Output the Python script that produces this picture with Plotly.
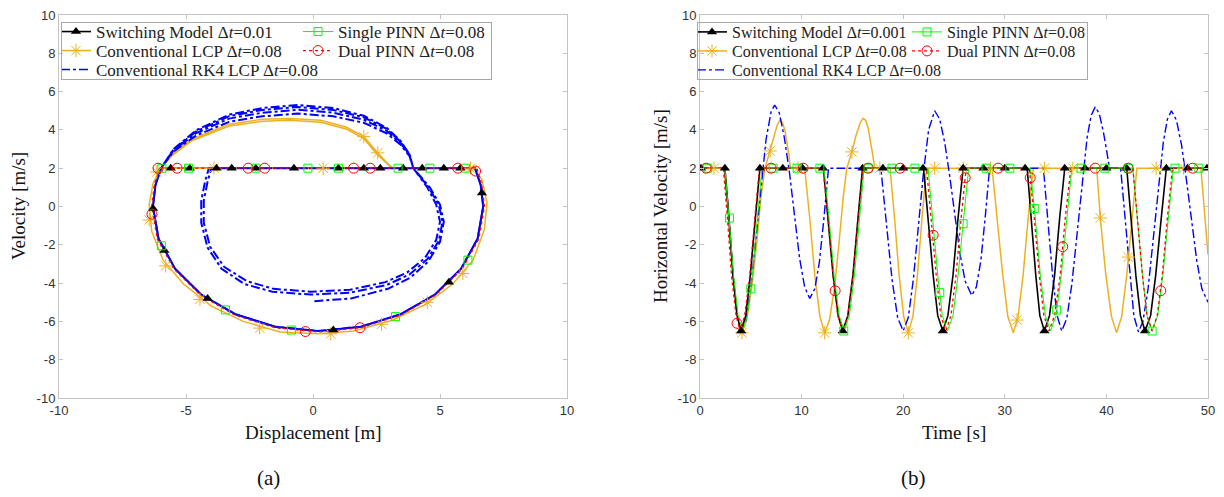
import plotly.graph_objects as go

W, H = 1224, 497

# ---------------- tick labels ----------------
y_tick_vals = [-10, -8, -6, -4, -2, 0, 2, 4, 6, 8, 10]
y_tick_text = ['-10', '-8', '-6', '-4', '-2', '0', '2', '4', '6', '8', '10']
xa_tick_vals = [-10, -5, 0, 5, 10]
xa_tick_text = ['-10', '-5', '0', '5', '10']
xb_tick_vals = [0, 10, 20, 30, 40, 50]
xb_tick_text = ['0', '10', '20', '30', '40', '50']

names_a = ['Switching Model Δ<i>t</i>=0.01', 'Conventional LCP Δ<i>t</i>=0.08',
           'Conventional RK4 LCP Δ<i>t</i>=0.08', 'Single PINN Δ<i>t</i>=0.08',
           'Dual PINN Δ<i>t</i>=0.08']
names_b = ['Switching Model Δ<i>t</i>=0.001', 'Conventional LCP Δ<i>t</i>=0.08',
           'Conventional RK4 LCP Δ<i>t</i>=0.08', 'Single PINN Δ<i>t</i>=0.08',
           'Dual PINN Δ<i>t</i>=0.08']

# ================= panel (a): phase portrait =================
sw_x = [-5.98, 6.38, 6.6, 6.7, 6.48, 5.83, 4.8, 3.45, 1.88, 0.2, -1.48, -3.05, -4.4, -5.43, -6.08, -6.3, -6.2, -5.98]
sw_y = [2.0, 2.0, 1.13, 0.0, -1.68, -3.25, -4.6, -5.63, -6.28, -6.5, -6.28, -5.63, -4.6, -3.25, -1.68, 0.0, 1.13, 2.0]
sw_mx = [-5.6, -4.85, -3.8, -3.2, -2.25, -0.75, 1.0, 2.0, 2.65, 3.55, 4.3, 5.15, 5.8, 6.65, 5.35, 0.8, -4.15, -5.85, -6.3]
sw_my = [2, 2, 2, 2, 2, 2, 2, 2, 2, 2, 2, 2, 2, 0.7, -3.95, -6.45, -4.8, -2.3, -0.1]

sp_x = [-5.95, 6.35, 6.6, 6.7, 6.48, 5.83, 4.8, 3.45, 1.88, 0.2, -1.48, -3.05, -4.4, -5.43, -6.08, -6.3, -6.2, -5.95]
sp_y = [2.0, 2.0, 1.13, 0.0, -1.68, -3.25, -4.6, -5.63, -6.28, -6.5, -6.28, -5.63, -4.6, -3.25, -1.68, 0.0, 1.13, 2.0]
sp_mx = [-5.95, -4.9, -2.25, -0.2, 1.0, 3.35, 4.6, 6.0, -5.97, -3.45, -0.85, 3.25, 6.1]
sp_my = [2, 2, 2, 2, 2, 2, 2, 2, -2.05, -5.4, -6.45, -5.75, -2.8]

dp_x = [-6.05, 6.45, 6.65, 6.75, 6.53, 5.87, 4.83, 3.47, 1.88, 0.2, -1.5, -3.08, -4.43, -5.47, -6.13, -6.35, -6.25, -6.05]
dp_y = [2.0, 2.0, 1.13, 0.0, -1.7, -3.27, -4.63, -5.67, -6.33, -6.55, -6.33, -5.67, -4.63, -3.27, -1.7, 0.0, 1.13, 2.0]
dp_mx = [-6.1, -5.35, -2.55, -1.9, 1.6, 2.25, 5.7, 6.4, -6.34, -0.3, 1.85]
dp_my = [2, 2, 2, 2, 2, 2, 2, 1.85, -0.4, -6.53, -6.33]

lcp_start_x = [1.5]
lcp_start_y = [2.0]
lcp_loop_x = [6.35, 6.65, 6.85, 6.75, 6.3, 5.5, 4.45, 3.1, 1.6, 0.2, -1.3, -2.75, -4.0, -5.1, -5.9, -6.35, -6.45, -6.3, -6.0]
lcp_loop_y = [2.0, 1.4, 0.2, -1.2, -2.8, -4.05, -5.1, -5.95, -6.5, -6.65, -6.55, -6.0, -5.2, -4.05, -2.8, -1.3, 0.1, 1.2, 2.0]
lcp_hump1_x = [-6.0, -5.6, -4.8, -3.3, -2.0, -0.9, 0.3, 1.3, 2.0, 2.55, 2.9, 3.15]
lcp_hump1_y = [2.0, 2.7, 3.5, 4.3, 4.55, 4.6, 4.5, 4.15, 3.65, 2.8, 2.3, 2.0]
lcp_hump2_x = [-6.0, -5.55, -4.75, -3.3, -2.0, -0.9, 0.3, 1.3, 2.0, 2.5, 2.85, 3.1]
lcp_hump2_y = [2.0, 2.65, 3.45, 4.2, 4.45, 4.5, 4.4, 4.05, 3.55, 2.75, 2.3, 2.0]
lcp_mx = [-6.15, -6.45, -5.8, -4.45, -2.1, 0.7, 2.7, 4.5, 5.9, -3.9, 0.4, 2.0, 2.55, 6.2]
lcp_my = [1.8, -0.7, -3.1, -4.85, -6.35, -6.65, -6.15, -5.0, -3.5, 2, 2, 3.65, 2.8, 2]

rk_start_x = [1.4]
rk_start_y = [2.0]
rk_outer_x = [6.38, 6.6, 6.7, 6.48, 5.83, 4.8, 3.45, 1.88, 0.2, -1.48, -3.05, -4.4, -5.43, -6.08, -6.3, -6.2, -5.98]
rk_outer_y = [2.0, 1.13, 0.0, -1.68, -3.25, -4.6, -5.63, -6.28, -6.5, -6.28, -5.63, -4.6, -3.25, -1.68, 0.0, 1.13, 2.0]
rk_hump_x = [-5.98, -5.5, -4.6, -3.3, -2.0, -0.6, 0.8, 2.0, 2.9, 3.45, 3.8, 3.95]
rk_hump1_y = [2.0, 2.99, 3.98, 4.8, 5.14, 5.3, 5.14, 4.74, 4.11, 3.42, 2.73, 2.0]
rk_hump2_y = [2.0, 2.86, 3.71, 4.42, 4.71, 4.85, 4.71, 4.37, 3.82, 3.23, 2.63, 2.0]
rk_hump3_y = [2.0, 2.96, 3.92, 4.72, 5.04, 5.2, 5.04, 4.66, 4.05, 3.38, 2.7, 2.0]
rk_hump4_y = [2.0, 2.92, 3.83, 4.59, 4.9, 5.05, 4.9, 4.53, 3.95, 3.31, 2.67, 2.0]
rk_inner1_x = [3.95, 4.55, 4.95, 5.1, 4.95, 4.5, 3.8, 2.9, 1.45, -0.1, -1.6, -2.7, -3.6, -4.15, -4.4, -4.4, -4.25, -4.1]
rk_inner1_y = [2.0, 1.0, 0.1, -0.8, -1.8, -2.75, -3.55, -4.1, -4.5, -4.6, -4.45, -4.05, -3.25, -2.15, -0.85, 0.3, 1.3, 2.0]
rk_inner2_x = [3.95, 4.5, 4.85, 5.0, 4.85, 4.4, 3.7, 2.85, 1.45, -0.1, -1.55, -2.6, -3.5, -4.05, -4.3, -4.3, -4.15, -4.0]
rk_inner2_y = [2.0, 1.0, 0.1, -0.8, -1.75, -2.7, -3.45, -3.95, -4.35, -4.45, -4.3, -3.9, -3.15, -2.1, -0.85, 0.3, 1.3, 2.0]
rk_inner3_x = [3.95, 4.6, 5.0, 5.15, 5.0, 4.55, 3.85, 2.95, 1.5, 0.0]
rk_inner3_y = [2.0, 1.0, 0.1, -0.8, -1.85, -2.85, -3.7, -4.3, -4.8, -4.95]

# ================= panel (b): time histories =================
sw_t = [0.0, 2.45, 2.85, 3.25, 3.65, 4.05, 4.5, 4.95, 5.45, 5.9,
        12.15, 12.6, 13.1, 13.6, 14.05, 14.55, 15.05, 15.55, 16.0,
        22.0, 22.45, 22.95, 23.4, 23.9, 24.4, 24.9, 25.4, 25.9,
        32.2, 32.6, 33.05, 33.45, 33.9, 34.4, 34.9, 35.4, 35.9,
        42.0, 42.45, 42.9, 43.35, 43.8, 44.35, 44.85, 45.4, 45.9,
        50.0]
sw_v = [2, 2, -0.6, -3.6, -5.7, -6.5, -5.7, -3.6, -0.6, 2,
        2, -0.6, -3.6, -5.7, -6.5, -5.7, -3.6, -0.6, 2,
        2, -0.6, -3.6, -5.7, -6.5, -5.7, -3.6, -0.6, 2,
        2, -0.6, -3.6, -5.7, -6.5, -5.7, -3.6, -0.6, 2,
        2, -0.6, -3.6, -5.7, -6.5, -5.7, -3.6, -0.6, 2,
        2]
sw_mt = [0.1, 2.45, 4.05, 5.9, 8.15, 10.1, 12.1, 14.05, 16.0, 18.0, 20.0, 21.95, 23.9,
         25.9, 27.9, 30.0, 32.0, 33.9, 35.9, 37.9, 40.0, 42.0, 43.8, 45.9, 48.0, 49.9]
sw_mv = [2, 2, -6.5, 2, 2, 2, 2, -6.5, 2, 2, 2, 2, -6.5,
         2, 2, 2, 2, -6.5, 2, 2, 2, 2, -6.5, 2, 2, 2]

sp_t = [0.0, 2.45, 2.85, 3.3, 3.75, 4.2, 4.65, 5.15, 5.65, 6.1,
        12.2, 12.7, 13.2, 13.7, 14.2, 14.7, 15.2, 15.7, 16.15,
        22.45, 22.9, 23.4, 23.85, 24.35, 24.9, 25.4, 25.95, 26.45,
        32.5, 33.0, 33.5, 34.0, 34.5, 35.05, 35.55, 36.1, 36.6,
        42.6, 43.05, 43.55, 44.0, 44.5, 45.05, 45.55, 46.1, 46.6,
        50.0]
sp_v = [2, 2, -0.6, -3.6, -5.7, -6.5, -5.7, -3.6, -0.6, 2,
        2, -0.6, -3.6, -5.7, -6.5, -5.7, -3.6, -0.6, 2,
        2, -0.6, -3.6, -5.7, -6.5, -5.7, -3.6, -0.6, 2,
        2, -0.6, -3.6, -5.7, -6.5, -5.7, -3.6, -0.6, 2,
        2, -0.6, -3.6, -5.7, -6.5, -5.7, -3.6, -0.6, 2,
        2]
sp_mt = [0.76, 2.9, 5.0, 7.2, 9.55, 11.8, 14.15, 16.55, 18.9, 21.15, 23.6, 25.9,
         28.15, 30.5, 32.9, 35.1, 37.5, 39.85, 42.15, 44.5, 46.75, 49.1]
sp_mv = [2, -0.6, -4.3, 2, 2, 2, -6.5, 2, 2, 2, -4.5, -0.9,
         2, 2, -0.1, -5.4, 2, 2, 2, -6.5, 2, 2]

dp_t = [0.0, 2.3, 2.7, 3.1, 3.55, 3.95, 4.4, 4.9, 5.4, 5.85,
        12.1, 12.6, 13.1, 13.55, 14.05, 14.55, 15.05, 15.55, 16.05,
        22.3, 22.75, 23.25, 23.7, 24.2, 24.7, 25.2, 25.7, 26.2,
        32.4, 32.9, 33.4, 33.85, 34.35, 34.9, 35.45, 35.95, 36.5,
        42.6, 43.05, 43.55, 44.0, 44.5, 45.0, 45.5, 46.0, 46.5,
        50.0]
dp_v = [2, 2, -0.6, -3.6, -5.7, -6.5, -5.7, -3.6, -0.6, 2,
        2, -0.6, -3.6, -5.7, -6.5, -5.7, -3.6, -0.6, 2,
        2, -0.6, -3.6, -5.7, -6.5, -5.7, -3.6, -0.6, 2,
        2, -0.6, -3.6, -5.7, -6.5, -5.7, -3.6, -0.6, 2,
        2, -0.6, -3.6, -5.7, -6.5, -5.7, -3.6, -0.6, 2,
        2]
dp_mt = [0.6, 3.65, 7.0, 10.15, 13.3, 16.55, 19.7, 22.95, 26.1, 29.35, 32.5, 35.7,
         38.9, 42.15, 45.35, 48.5]
dp_mv = [2, -6.1, 2, 2, -4.4, 2, 2, -1.5, 1.5, 2, 1.5, -2.1,
         2, 2, -4.4, 2]

lcp_t = [0.0, 2.36, 2.8, 3.25, 3.7, 4.13,
         4.6, 5.1, 5.6, 6.0, 6.4, 6.9, 7.3, 7.6, 7.85, 8.1, 8.35, 8.55, 8.75, 8.9,
         10.3, 10.8, 11.3, 11.8, 12.27,
         12.75, 13.25, 13.7, 14.1, 14.45, 14.95, 15.35, 15.75, 16.05, 16.3, 16.55, 16.8, 17.0, 17.2,
         18.7, 19.15, 19.6, 20.05, 20.5, 20.95, 21.4, 21.85, 22.3,
         28.75, 29.25, 29.8, 30.3, 30.84, 31.3, 31.8, 32.3, 32.8,
         39.05, 39.4, 39.95, 40.5, 41.0, 41.5, 42.0, 42.5, 43.0,
         49.3, 49.7, 50.0]
lcp_v = [2, 2, -0.6, -3.6, -5.75, -6.6,
         -5.9, -4.2, -1.8, 0.5, 2.0, 2.9, 3.7, 4.25, 4.5, 4.4, 4.0, 3.4, 2.7, 2.0,
         2, -0.6, -3.6, -5.75, -6.6,
         -5.9, -4.2, -1.8, 0.5, 2.0, 2.85, 3.7, 4.35, 4.6, 4.5, 4.1, 3.4, 2.7, 2.0,
         2, -0.6, -3.6, -5.75, -6.6, -5.75, -3.6, -0.6, 2,
         2, -0.6, -3.6, -5.75, -6.6, -5.75, -3.6, -0.6, 2,
         2, -0.6, -3.6, -5.75, -6.6, -5.75, -3.6, -0.6, 2,
         2, -0.5, -2.5]
lcp_mt = [1.38, 4.13, 6.9, 9.64, 12.27, 14.95, 17.7, 20.5, 23.1, 25.9, 28.6, 31.2,
          33.9, 36.7, 39.4, 42.16, 44.9, 47.6]
lcp_mv = [2, -6.6, 2.9, 2, -6.6, 2.85, 2, -6.6, 2, 2, 2, -5.93,
          2, 2, -0.6, -2.64, 2, 2]

rk_t = [0.0, 2.45, 2.85, 3.25, 3.65, 4.05,
        4.5, 5.0, 5.5, 6.0, 6.5, 7.0, 7.35,
        7.8, 8.3, 8.8, 9.3, 9.8, 10.3, 10.8,
        11.3, 11.75, 12.2, 12.65,
        17.8, 18.35, 18.9, 19.45, 20.0,
        20.5, 21.0, 21.5, 22.0, 22.5, 23.1,
        23.6, 24.1, 24.6, 25.1, 25.6, 26.1, 26.75,
        27.2, 27.65, 28.1, 28.5,
        33.8, 34.25, 34.7, 35.15, 35.6,
        36.1, 36.6, 37.1, 37.6, 38.1, 38.5, 38.9,
        39.3, 39.7, 40.0, 40.3,
        41.4, 41.85, 42.3, 42.7, 43.15,
        43.6, 44.1, 44.6, 45.1, 45.6, 46.0, 46.4,
        46.9, 47.4, 47.9, 48.4, 48.9, 49.4, 50.0]
rk_v = [2, 2, -0.6, -3.6, -5.7, -6.5,
        -5.95, -4.25, -1.7, 1.1, 3.5, 4.95, 5.3,
        4.9, 3.6, 1.8, -0.6, -2.7, -4.2, -4.8,
        -4.3, -2.9, -0.6, 2.0,
        2, -0.8, -3.8, -5.8, -6.5,
        -5.8, -3.8, -1.0, 1.8, 4.0, 5.0,
        4.55, 3.3, 1.5, -0.55, -2.5, -3.9, -4.65,
        -4.2, -2.8, -0.4, 2.0,
        2, -0.6, -3.6, -5.7, -6.5,
        -5.85, -4.05, -1.5, 1.25, 3.6, 4.75, 5.2,
        4.85, 3.9, 3.0, 2.0,
        2, -0.6, -3.6, -5.7, -6.55,
        -6.0, -4.3, -1.75, 1.0, 3.35, 4.55, 5.0,
        4.5, 3.2, 1.3, -0.85, -2.85, -4.3, -5.0]

lcp_px = lcp_start_x + lcp_loop_x + lcp_hump1_x + lcp_loop_x + lcp_hump2_x + lcp_loop_x + lcp_loop_x
lcp_py = lcp_start_y + lcp_loop_y + lcp_hump1_y + lcp_loop_y + lcp_hump2_y + lcp_loop_y + lcp_loop_y
rk_px = (rk_start_x + rk_outer_x + rk_hump_x + rk_inner1_x + rk_outer_x + rk_hump_x + rk_inner2_x
         + rk_outer_x + rk_hump_x + rk_outer_x + rk_hump_x + rk_inner3_x)
rk_py = (rk_start_y + rk_outer_y + rk_hump1_y + rk_inner1_y + rk_outer_y + rk_hump2_y + rk_inner2_y
         + rk_outer_y + rk_hump3_y + rk_outer_y + rk_hump4_y + rk_inner3_y)

STY = {
    'sw': dict(color='#000000', width=1.6, dash='solid', symbol='triangle-up', size=9, mlw=0),
    'lcp': dict(color='#EDB120', width=1.5, dash='solid', symbol='asterisk-open', size=11, mlw=1),
    'rk4': dict(color='#0000FF', width=1.4, dash='dashdot', symbol=None, size=0, mlw=0),
    'sp': dict(color='#00FF00', width=1.0, dash='solid', symbol='square-open', size=8, mlw=1),
    'dp': dict(color='#FF0000', width=1.3, dash='dot', symbol='circle-open', size=10, mlw=1),
}
SERIF = 'Liberation Serif'
SANS = 'Liberation Sans'

fig = go.Figure()


def add_line(x, y, key, xa, ya, width=None):
    s = STY[key]
    fig.add_trace(go.Scatter(x=x, y=y, mode='lines', xaxis=xa, yaxis=ya, showlegend=False,
                             hoverinfo='skip',
                             line=dict(color=s['color'], width=width or s['width'], dash=s['dash'])))


def add_markers(x, y, key, xa, ya):
    s = STY[key]
    fig.add_trace(go.Scatter(x=x, y=y, mode='markers', xaxis=xa, yaxis=ya, showlegend=False,
                             hoverinfo='skip',
                             marker=dict(symbol=s['symbol'], size=s['size'], color=s['color'],
                                         line=dict(color=s['color'], width=s['mlw']))))


def add_legend_entry(name, key, legend_id):
    s = STY[key]
    if s['symbol'] is None:
        fig.add_trace(go.Scatter(x=[None], y=[None], mode='lines', name=name, legend=legend_id,
                                 line=dict(color=s['color'], width=s['width'], dash=s['dash'])))
    else:
        fig.add_trace(go.Scatter(x=[None], y=[None], mode='lines+markers', name=name, legend=legend_id,
                                 line=dict(color=s['color'], width=s['width'], dash=s['dash']),
                                 marker=dict(symbol=s['symbol'], size=s['size'], color=s['color'],
                                             line=dict(color=s['color'], width=s['mlw']))))


add_line(sw_x, sw_y, 'sw', 'x', 'y')
add_line(sp_x, sp_y, 'sp', 'x', 'y')
add_line(lcp_px, lcp_py, 'lcp', 'x', 'y')
add_line(rk_px, rk_py, 'rk4', 'x', 'y', width=2.0)
add_line(dp_x, dp_y, 'dp', 'x', 'y')
add_markers(lcp_mx, lcp_my, 'lcp', 'x', 'y')
add_markers(sw_mx, sw_my, 'sw', 'x', 'y')
add_markers(sp_mx, sp_my, 'sp', 'x', 'y')
add_markers(dp_mx, dp_my, 'dp', 'x', 'y')

add_line(lcp_t, lcp_v, 'lcp', 'x2', 'y2')
add_line(rk_t, rk_v, 'rk4', 'x2', 'y2')
add_line(sw_t, sw_v, 'sw', 'x2', 'y2')
add_line(sp_t, sp_v, 'sp', 'x2', 'y2')
add_line(dp_t, dp_v, 'dp', 'x2', 'y2')
add_markers(lcp_mt, lcp_mv, 'lcp', 'x2', 'y2')
add_markers(sw_mt, sw_mv, 'sw', 'x2', 'y2')
add_markers(sp_mt, sp_mv, 'sp', 'x2', 'y2')
add_markers(dp_mt, dp_mv, 'dp', 'x2', 'y2')

# legends
keys = ['sw', 'lcp', 'rk4', 'sp', 'dp']
pos_a = [(56, 32), (56, 51), (56, 70), (298, 32), (298, 51)]
pos_b = [(692, 32), (692, 51), (692, 70), (907, 32), (907, 51)]
legend_layout = {}
for i, k in enumerate(keys):
    for names, pos, off, fs in ((names_a, pos_a, 0, 17), (names_b, pos_b, 5, 16)):
        n = i + 1 + off
        lid = 'legend' if n == 1 else 'legend%d' % n
        add_legend_entry(names[i], k, lid)
        legend_layout[lid] = dict(x=pos[i][0] / W, y=1 - pos[i][1] / H, xanchor='left', yanchor='middle',
                                  bgcolor='rgba(0,0,0,0)', borderwidth=0, itemwidth=30,
                                  font=dict(family=SERIF, size=fs, color='#222222'))

axis_common = dict(showline=True, linecolor='#c4c4c4', linewidth=1, mirror='ticks', ticks='inside',
                   ticklen=4, tickcolor='#c4c4c4', showgrid=False, zeroline=False, automargin=False,
                   tickfont=dict(family=SANS, size=13, color='#333333'))
ydom = [1 - 398 / H, 1 - 15 / H]

fig.update_layout(
    width=W, height=H, margin=dict(l=0, r=0, t=0, b=0),
    paper_bgcolor='white', plot_bgcolor='rgba(0,0,0,0)', showlegend=True,
    xaxis=dict(domain=[59 / W, 567 / W], range=[-10, 10], anchor='y',
               tickvals=xa_tick_vals, ticktext=xa_tick_text, **axis_common),
    yaxis=dict(domain=ydom, range=[-10, 10], anchor='x',
               tickvals=y_tick_vals, ticktext=y_tick_text, **axis_common),
    xaxis2=dict(domain=[700 / W, 1208 / W], range=[0, 50], anchor='y2',
                tickvals=xb_tick_vals, ticktext=xb_tick_text, **axis_common),
    yaxis2=dict(domain=ydom, range=[-10, 10], anchor='x2',
                tickvals=y_tick_vals, ticktext=y_tick_text, **axis_common),
    **legend_layout,
)

# legend frames: empty fixed-size bordered annotation boxes (px: left, top, right, bottom)
frame_boxes = [(61, 22, 492, 80), (697, 22, 1088, 80)]
for (x0, y0, x1, y1) in frame_boxes:
    fig.add_annotation(text='&nbsp;', x=(x0 + x1) / 2 / W, y=1 - (y0 + y1) / 2 / H,
                       xref='paper', yref='paper', xanchor='center', yanchor='middle',
                       showarrow=False, width=x1 - x0 - 2, height=y1 - y0 - 2,
                       borderwidth=1, borderpad=0, bordercolor='#a8a8a8',
                       bgcolor='rgba(0,0,0,0)', font=dict(size=10))

annots = [
    ('Velocity [m/s]', 18, 206, -90, 19),
    ('Horizontal Velocity [m/s]', 660, 206, -90, 19),
    ('Displacement [m]', 313, 432, 0, 19),
    ('Time [s]', 954, 432, 0, 19),
    ('(a)', 268, 478, 0, 21),
    ('(b)', 913, 478, 0, 21),
]
for text, px, py, ang, fs in annots:
    fig.add_annotation(text=text, x=px / W, y=1 - py / H, xref='paper', yref='paper',
                       xanchor='center', yanchor='middle', showarrow=False, textangle=ang,
                       font=dict(family=SERIF, size=fs, color='#111111'))

fig.write_html('out.html', config={'displayModeBar': False})
